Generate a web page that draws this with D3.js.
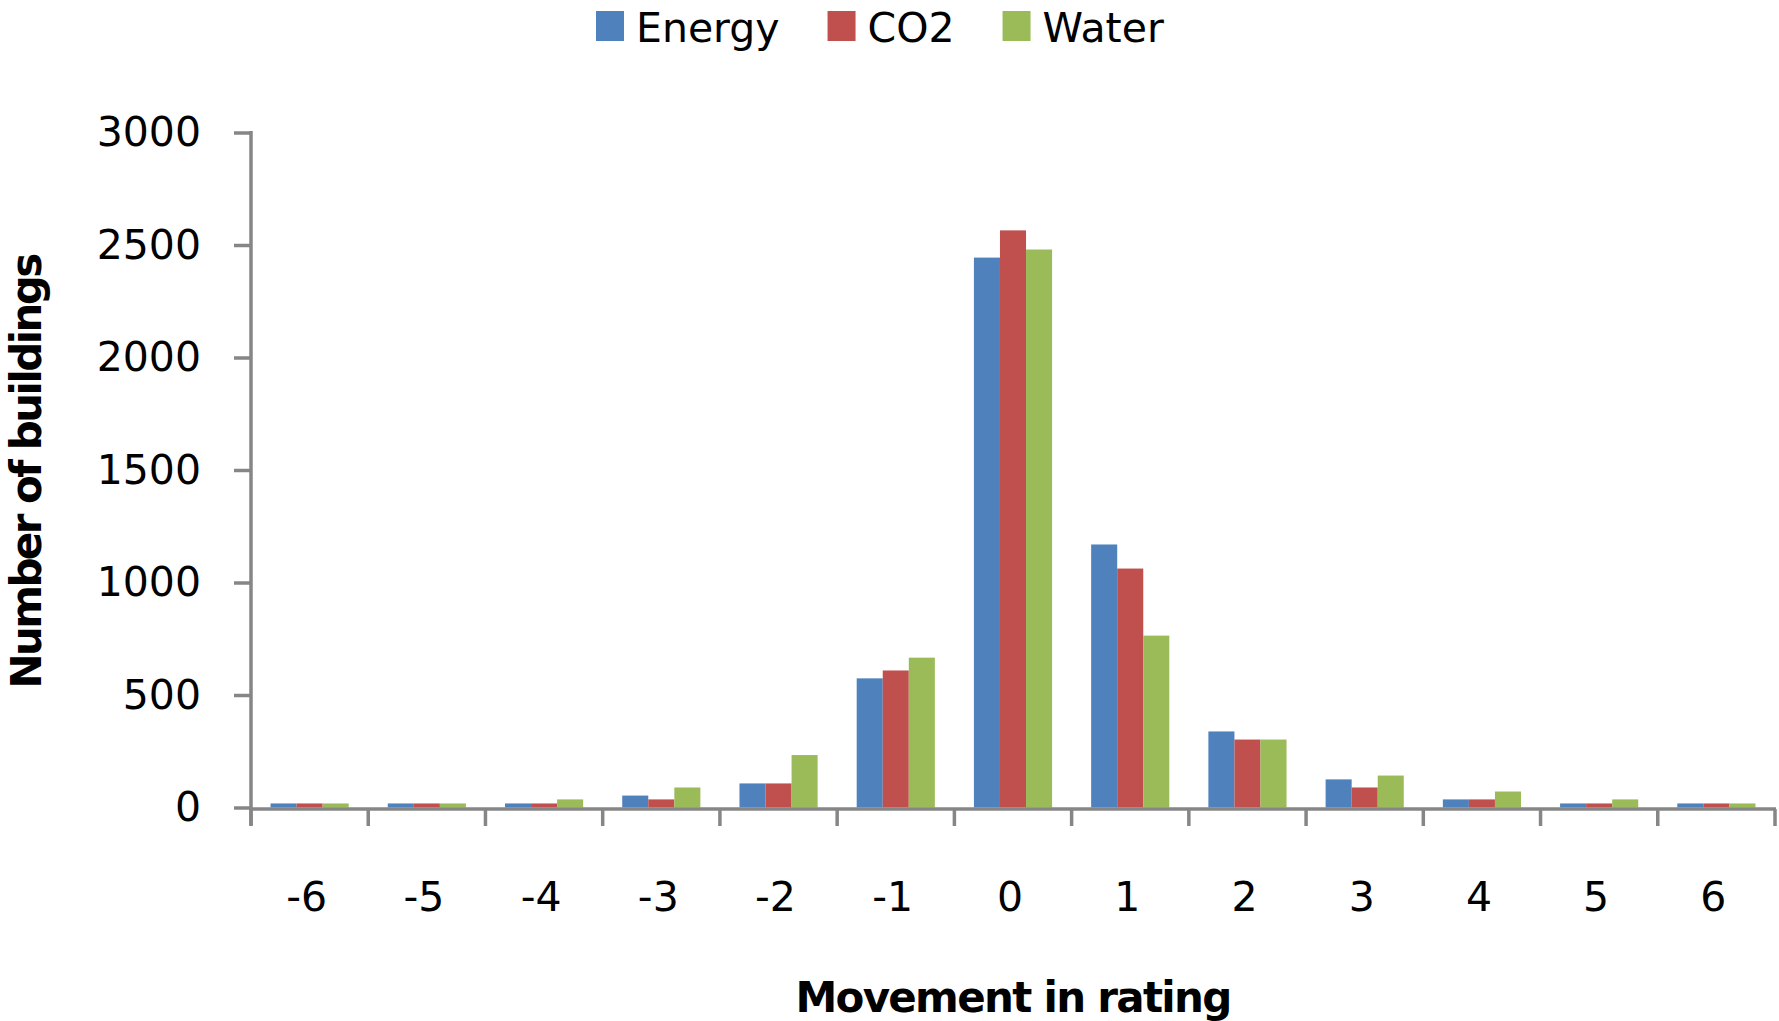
<!DOCTYPE html>
<html>
<head>
<meta charset="utf-8">
<script src="https://cdn.jsdelivr.net/npm/d3@7"></script>
<style>
  body { margin: 0; background: #fff; }
  text { font-family: "DejaVu Sans", Verdana, sans-serif; fill: #000; }
</style>
</head>
<body>
<div id="chart"></div>
<script>
// data
var categories = ["-6", "-5", "-4", "-3", "-2", "-1", "0", "1", "2", "3", "4", "5", "6"]
var seriesNames = ["Energy", "CO2", "Water"]
var energy = [18, 18, 18, 53, 107, 574, 2444, 1169, 338, 125, 36, 18, 18]
var co2 = [18, 18, 18, 36, 107, 609, 2565, 1062, 302, 89, 36, 18, 18]
var water = [18, 18, 36, 89, 233, 666, 2480, 764, 302, 142, 71, 36, 18]
var yTicks = [0, 500, 1000, 1500, 2000, 2500, 3000]
var colors = ["#4F81BD", "#C0504D", "#9BBB59"]

var values = [energy, co2, water]
var W = 1779, H = 1021
var axisColor = "#868686"
var axisWidth = 3.5

var svg = d3.select("#chart")
  .append("svg")
  .attr("width", W)
  .attr("height", H)

// plot area (don't call it "top", window.top is taken)
var plotLeft = 251, plotRight = 1775, plotTop = 132.5, plotBottom = 807.5

var x = d3.scaleBand()
  .domain(categories)
  .range([plotLeft, plotRight])

// excel style: gap width 150%
var bw = x.bandwidth() / 4.5
var x1 = d3.scaleBand()
  .domain(seriesNames)
  .range([bw * 0.75, bw * 3.75])

var y = d3.scaleLinear()
  .domain([0, 3000])
  .range([plotBottom, plotTop])

// bars
seriesNames.forEach(function (s, si) {
  svg.append("g")
    .selectAll("rect")
    .data(values[si])
    .enter()
    .append("rect")
    .attr("x", function (d, i) { return x(categories[i]) + x1(s); })
    .attr("y", function (d) { return y(d); })
    .attr("width", x1.bandwidth())
    .attr("height", function (d) { return y(0) - y(d); })
    .style("fill", colors[si])
})

// Y axis
var yAxis = svg.append("g")
  .attr("transform", "translate(" + plotLeft + ",0)")
  .call(d3.axisLeft(y).tickValues(yTicks).tickFormat(d3.format("d")).tickSize(17).tickPadding(33))
yAxis.select(".domain").remove()
yAxis.selectAll(".tick line").attr("stroke", axisColor).attr("stroke-width", axisWidth)
yAxis.selectAll(".tick text")
  .style("font-size", "41px")
  .style("font-family", "'DejaVu Sans', Verdana, sans-serif")
  .attr("fill", "#000")
yAxis.append("line")
  .attr("x1", 0).attr("x2", 0)
  .attr("y1", plotTop - 1.5).attr("y2", plotBottom + 18)
  .attr("stroke", axisColor).attr("stroke-width", axisWidth)

// X axis
var xAxis = svg.append("g")
  .attr("transform", "translate(0," + (plotBottom + 1.5) + ")")
xAxis.append("line")
  .attr("x1", plotLeft).attr("x2", plotRight + 1)
  .attr("stroke", axisColor).attr("stroke-width", axisWidth)

// boundary ticks between categories
var bounds = categories.map(function (c) { return x(c); }).concat([plotRight])
xAxis.selectAll(".bound")
  .data(bounds)
  .enter()
  .append("line")
  .attr("class", "bound")
  .attr("x1", function (d) { return d; })
  .attr("x2", function (d) { return d; })
  .attr("y1", 0)
  .attr("y2", 17)
  .attr("stroke", axisColor)
  .attr("stroke-width", axisWidth)

xAxis.selectAll(".lbl")
  .data(categories)
  .enter()
  .append("text")
  .attr("class", "lbl")
  .attr("x", function (d) { return x(d) + x.bandwidth() / 2 - 3; })
  .attr("y", 102)
  .attr("text-anchor", "middle")
  .style("font-size", "41px")
  .text(function (d) { return d; })

// axis titles
svg.append("text")
  .attr("x", 1013)
  .attr("y", 1012)
  .attr("text-anchor", "middle")
  .style("font-size", "42px")
  .style("font-weight", "bold")
  .style("letter-spacing", "-1.7px")
  .text("Movement in rating")

svg.append("text")
  .attr("transform", "translate(41,472) rotate(-90)")
  .attr("text-anchor", "middle")
  .style("font-size", "42px")
  .style("font-weight", "bold")
  .style("letter-spacing", "-2.6px")
  .text("Number of buildings")

// legend
var legend = svg.append("g")
var lx = 596
seriesNames.forEach(function (s, si) {
  legend.append("rect")
    .attr("x", lx)
    .attr("y", 11)
    .attr("width", 28)
    .attr("height", 30)
    .style("fill", colors[si])
  var t = legend.append("text")
    .attr("x", lx + 40)
    .attr("y", 42)
    .style("font-size", "41px")
    .text(s)
  lx = lx + 40 + t.node().getComputedTextLength() + 48
})
</script>
</body>
</html>
